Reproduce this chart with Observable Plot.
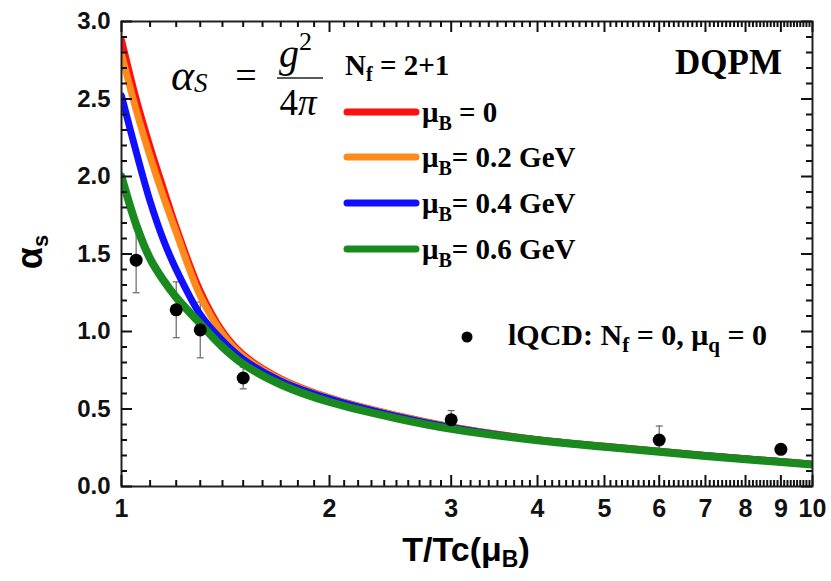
<!DOCTYPE html>
<html>
<head>
<meta charset="utf-8">
<script src="https://cdn.jsdelivr.net/npm/d3@7"></script>
<script src="https://cdn.jsdelivr.net/npm/@observablehq/plot@0.6"></script>
<style>
  body { margin: 0; background: white; }
  text { white-space: pre; }
</style>
</head>
<body>
<div id="chart"></div>
<script>
// ---- data ----
const T = [1, 1.05, 1.1, 1.15, 1.2, 1.3, 1.4, 1.5, 1.7, 2, 2.5, 3, 4, 5, 6, 7, 8, 9, 10];
const alphaMu0  = [2.88, 2.50, 2.19, 1.92, 1.67, 1.26, 1.00, 0.85, 0.695, 0.572, 0.458, 0.385, 0.302, 0.259, 0.227, 0.200, 0.179, 0.161, 0.144];
const alphaMu02 = [2.79, 2.43, 2.13, 1.87, 1.64, 1.23, 0.985, 0.84, 0.69, 0.570, 0.457, 0.384, 0.301, 0.258, 0.226, 0.199, 0.178, 0.160, 0.143];
const alphaMu04 = [2.52, 2.16, 1.84, 1.59, 1.40, 1.11, 0.94, 0.82, 0.68, 0.565, 0.452, 0.381, 0.300, 0.257, 0.225, 0.198, 0.177, 0.159, 0.142];
const alphaMu06 = [2.00, 1.69, 1.47, 1.33, 1.22, 1.05, 0.90, 0.79, 0.658, 0.545, 0.440, 0.372, 0.298, 0.256, 0.224, 0.197, 0.176, 0.158, 0.141];
const seriesNames = ["μB = 0", "μB = 0.2 GeV", "μB = 0.4 GeV", "μB = 0.6 GeV"];
const seriesColors = ["#ff1010", "#ff8a1c", "#1010ff", "#1a8a1e"];
const seriesWidths = [7, 7, 7, 8];
const seriesValues = [alphaMu0, alphaMu02, alphaMu04, alphaMu06];

const lqcdT = [1.05, 1.2, 1.3, 1.5, 3, 6, 9];
const lqcdAlpha = [1.46, 1.14, 1.01, 0.70, 0.43, 0.30, 0.24];
const lqcdErr = [0.21, 0.18, 0.18, 0.07, 0.06, 0.09, 0.02];

const xMajorTicks = [1, 2, 3, 4, 5, 6, 7, 8, 9, 10];
const yMajorTicks = [0, 0.5, 1.0, 1.5, 2.0, 2.5, 3.0];

// ---- derived tables ----
const xMinorTicks = d3.range(10, 101).filter(i => i % 10 !== 0).map(i => i / 10);
const yMinorTicks = d3.range(0, 31).filter(i => i % 5 !== 0).map(i => i / 10);

const curveRows = seriesNames.map((name, s) =>
  T.map((t, i) => ({T: t, alpha: seriesValues[s][i], key: name})));
const lqcd = lqcdT.map((t, i) => ({T: t, alpha: lqcdAlpha[i], err: lqcdErr[i]}));

const capSymbol = {draw(ctx, size) { const w = Math.sqrt(size / Math.PI); ctx.moveTo(-w, 0); ctx.lineTo(w, 0); }};

const W = 831, H = 581, ML = 121, MR = 19, MT = 21, MB = 95;
const frameW = W - ML - MR, frameH = H - MT - MB;
const tk = {stroke: "#111", strokeWidth: 2};
const major = 11, minor = 6;

const marks = [
  Plot.axisX({ticks: xMajorTicks, tickSize: 0, tickPadding: 13, tickFormat: d => String(d),
    fontSize: 25, fontWeight: "bold", color: "#111", label: null}),
  Plot.axisY({ticks: yMajorTicks, tickSize: 0, tickPadding: 11, tickFormat: d3.format(".1f"),
    fontSize: 24, fontWeight: "bold", color: "#111", label: null}),
  // lattice error bars
  Plot.ruleX(lqcd, {x: "T", y1: d => d.alpha - d.err, y2: d => d.alpha + d.err, stroke: "#666", strokeWidth: 1.2}),
  Plot.dot(lqcd, {x: "T", y: d => d.alpha - d.err, symbol: capSymbol, r: 3.5, stroke: "#666", strokeWidth: 1.2, fill: "none"}),
  Plot.dot(lqcd, {x: "T", y: d => d.alpha + d.err, symbol: capSymbol, r: 3.5, stroke: "#666", strokeWidth: 1.2, fill: "none"}),
  // DQPM curves
  ...curveRows.map((rows, s) => Plot.line(rows, {x: "T", y: "alpha", stroke: seriesColors[s],
    strokeWidth: seriesWidths[s], curve: "catmull-rom", clip: true})),
  Plot.dot(lqcd, {x: "T", y: "alpha", r: 6.5, fill: "black", stroke: "none"}),
  Plot.frame({stroke: "#222", strokeWidth: 2}),
  // inward ticks on all four sides
  Plot.ruleX(xMajorTicks, {x: d => d, insetTop: frameH - major, ...tk}),
  Plot.ruleX(xMinorTicks, {x: d => d, insetTop: frameH - minor, ...tk}),
  Plot.ruleX(xMajorTicks, {x: d => d, insetBottom: frameH - major, ...tk}),
  Plot.ruleX(xMinorTicks, {x: d => d, insetBottom: frameH - minor, ...tk}),
  Plot.ruleY(yMajorTicks, {y: d => d, insetRight: frameW - major, ...tk}),
  Plot.ruleY(yMinorTicks, {y: d => d, insetRight: frameW - minor, ...tk}),
  Plot.ruleY(yMajorTicks, {y: d => d, insetLeft: frameW - major, ...tk}),
  Plot.ruleY(yMinorTicks, {y: d => d, insetLeft: frameW - minor, ...tk})
];

const chart = Plot.plot({
  width: W, height: H,
  marginLeft: ML, marginRight: MR, marginTop: MT, marginBottom: MB,
  x: {type: "log", domain: [1, 10]},
  y: {domain: [0, 3]},
  style: {fontFamily: "'Liberation Sans', Arial, sans-serif", background: "white", overflow: "visible"},
  marks
});
document.getElementById("chart").append(chart);

// ---- annotations (rich text with sub/superscripts) ----
const svg = d3.select(chart);
const ann = svg.append("g");
function rich(x, y, parts, o) {
  const t = ann.append("text").attr("x", x).attr("y", y)
    .attr("font-family", o.family).attr("font-weight", o.weight || "normal")
    .attr("font-size", o.size).attr("text-anchor", o.anchor || "start").attr("fill", "black");
  if (o.transform) t.attr("transform", o.transform);
  let shift = 0;
  for (const p of parts) {
    const s = p.shift || 0;
    const ts = t.append("tspan").text(p.t).attr("dy", s - shift);
    if (p.size) ts.attr("font-size", p.size);
    if (p.style) ts.attr("font-style", p.style);
    if (p.weight) ts.attr("font-weight", p.weight);
    shift = s;
  }
  return t;
}
const serif = "'Liberation Serif', 'Times New Roman', serif";
const sans = "'Liberation Sans', Arial, sans-serif";

// axis titles
rich(466, 561, [{t: "T/Tc(μ"}, {t: "B", size: 23, shift: 6}, {t: ")", shift: 0}],
  {family: sans, weight: "bold", size: 34, anchor: "middle"});
rich(0, 0, [{t: "α"}, {t: "s", size: 22, shift: 6}],
  {family: sans, weight: "bold", size: 36, anchor: "middle", transform: "translate(42,252) rotate(-90)"});

// formula alpha_S = g^2 / 4pi
rich(171, 90, [{t: "α", style: "italic"}, {t: "S", style: "italic", size: 27, shift: 2}],
  {family: serif, size: 44});
rich(246, 88, [{t: "="}], {family: serif, size: 38, anchor: "middle"});
rich(279, 67, [{t: "g", style: "italic"}, {t: "2", size: 26, shift: -17}], {family: serif, size: 40});
ann.append("line").attr("x1", 277).attr("x2", 323).attr("y1", 78).attr("y2", 78)
  .attr("stroke", "#222").attr("stroke-width", 1.6);
rich(298, 115, [{t: "4"}, {t: "π", style: "italic"}], {family: serif, size: 37, anchor: "middle"});

// legend
rich(345, 75, [{t: "N"}, {t: "f", size: 20, shift: 6}, {t: " = 2+1", shift: 0}],
  {family: serif, weight: "bold", size: 29});
const legendY = [112, 157, 203, 249];
const legendTail = [" = 0", "= 0.2 GeV", "= 0.4 GeV", "= 0.6 GeV"];
seriesNames.forEach((name, s) => {
  ann.append("line").attr("x1", 347).attr("x2", 416).attr("y1", legendY[s]).attr("y2", legendY[s])
    .attr("stroke", seriesColors[s]).attr("stroke-width", 7).attr("stroke-linecap", "round");
  rich(422, legendY[s] + 10, [{t: "μ"}, {t: "B", size: 20, shift: 8}, {t: legendTail[s], shift: 0}],
    {family: serif, weight: "bold", size: 29});
});
rich(782, 74, [{t: "DQPM"}], {family: serif, weight: "bold", size: 35, anchor: "end"});

// lQCD legend entry
ann.append("circle").attr("cx", 467).attr("cy", 337).attr("r", 5.5).attr("fill", "black");
rich(508, 345, [{t: "lQCD: N"}, {t: "f", size: 21, shift: 7}, {t: " = 0, μ", shift: 0},
  {t: "q", size: 21, shift: 7}, {t: " = 0", shift: 0}],
  {family: serif, weight: "bold", size: 30});
</script>
</body>
</html>
